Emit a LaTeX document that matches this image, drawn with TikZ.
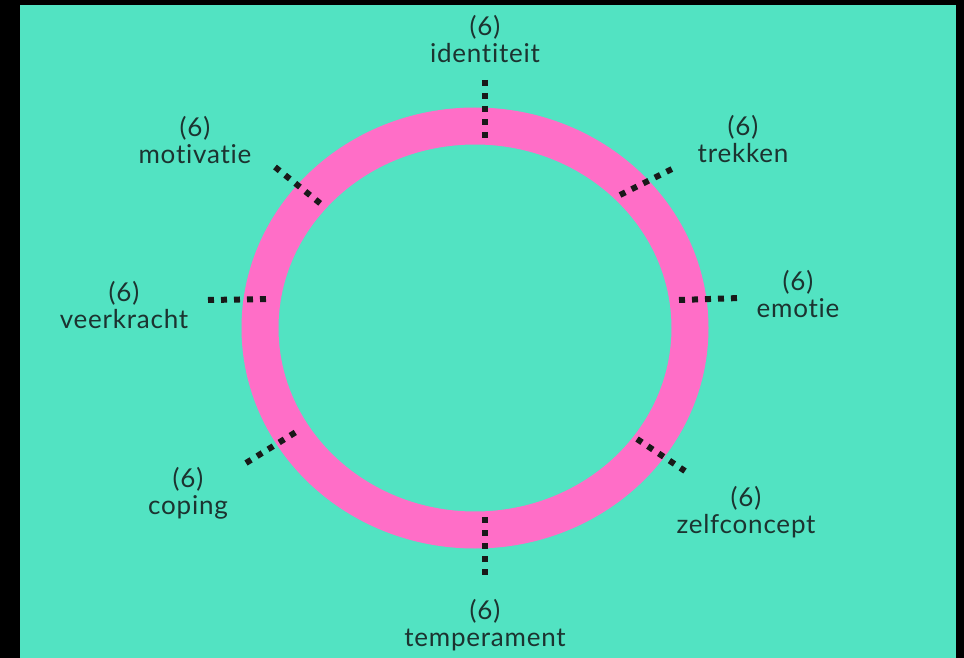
\documentclass[tikz,border=0pt]{standalone}
\usepackage{fontspec}
\setmainfont{Lato}[Ligatures=NoCommon, LetterSpace=3]
\definecolor{teal}{HTML}{52E3C2}
\definecolor{ringpink}{HTML}{FF6EC7}
\definecolor{labeltext}{HTML}{1C3330}
\begin{document}
\begin{tikzpicture}[x=1pt,y=-1pt,
        lbl/.style={text=labeltext, font=\fontsize{26}{27}\selectfont, align=center, inner sep=0pt},
        tick/.style={line width=6pt, dash pattern=on 6pt off 7pt, black!90}]
        \fill[black] (0,0) rectangle (964,658);
        \fill[teal] (20,5) rectangle (956,658);
        \useasboundingbox (0,0) rectangle (964,658);

        % ring
        \draw[ringpink, line width=37pt] (475,328) ellipse [x radius=215, y radius=202];

        % ticks
        \draw[tick] (485,80) -- (485,138);
        \draw[tick] (485,517) -- (485,575);
        \draw[tick] (208,300) -- (271,299);
        \draw[tick] (679,300) -- (740,298);
        \draw[tick] (620,195) -- (672,169);
        \draw[tick] (637,439) -- (685,471);
        \draw[tick] (275,167) -- (321,204);
        \draw[tick] (246,463) -- (296,432);

        % labels
        \node (identiteit) [lbl] at (485,39) {(6)\\identiteit};
        \node (trekken) [lbl] at (743,139) {(6)\\trekken};
        \node (emotie) [lbl] at (798,294) {(6)\\emotie};
        \node (zelfconcept) [lbl] at (746,512) {(6)\\zelfconcept};
        \node (temperament) [lbl] at (485,625) {(6)\\temperament};
        \node (coping) [lbl] at (188,493) {(6)\\coping};
        \node (veerkracht) [lbl] at (124,305) {(6)\\veerkracht};
        \node (motivatie) [lbl] at (195,140) {(6)\\motivatie};
    \end{tikzpicture}
\end{document}
